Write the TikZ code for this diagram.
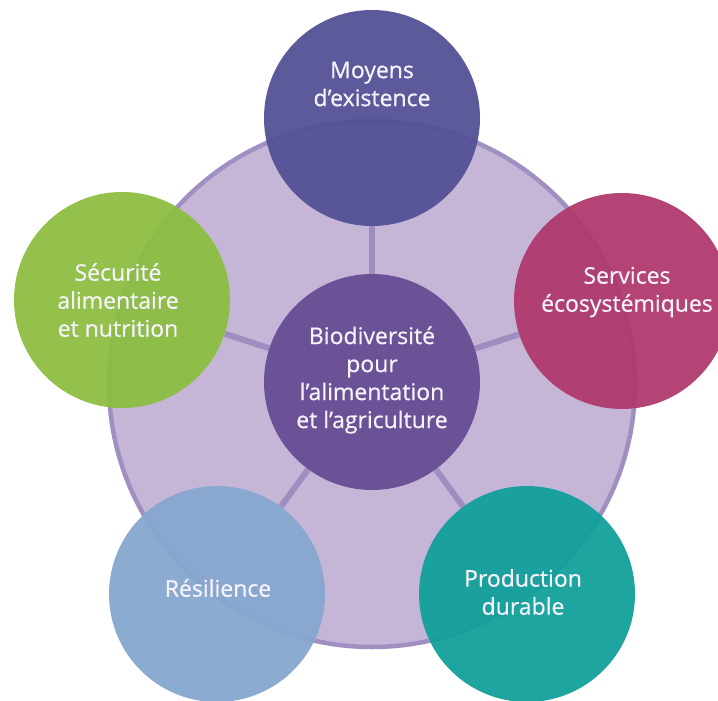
\documentclass[tikz,border=0pt]{standalone}
\usepackage{fontspec}
\setmainfont{Open Sans}
\newfontfamily\lblfont{Open Sans}[FakeBold=0.6]
\pgfdeclarelayer{bgA}
\pgfdeclarelayer{bgB}
\pgfsetlayers{bgA,bgB,main}
\definecolor{cBig}{RGB}{197,182,216}
\definecolor{cBigEdge}{RGB}{160,143,193}
\definecolor{cSpoke}{RGB}{158,142,192}
\definecolor{cTop}{RGB}{83,81,150}
\definecolor{cRight}{RGB}{175,58,110}
\definecolor{cLeft}{RGB}{141,190,66}
\definecolor{cBL}{RGB}{134,167,207}
\definecolor{cBR}{RGB}{18,160,154}
\definecolor{cMid}{RGB}{107,82,150}
\definecolor{cText}{RGB}{246,242,250}
\tikzset{
  petal/.style={circle, minimum size=216pt, inner sep=0pt, fill opacity=0.95, draw=none},
  hub/.style={circle, minimum size=216pt, inner sep=0pt, fill=cMid},
  lbl/.style={text=cText, align=center, font=\lblfont\fontsize{23}{28}\selectfont, inner sep=0pt},
  spoke/.style={draw=cSpoke, line width=6pt},
}
\begin{document}
\begin{tikzpicture}[x=1pt,y=-1pt]
\useasboundingbox (0,0) rectangle (718,701);
\clip (0,0) rectangle (718,701);
\node[hub] (mid) at (372,382) {};
\node[petal, fill=cTop] (top) at (372,118) {};
\node[petal, fill=cRight] (right) at (622,301) {};
\node[petal, fill=cLeft] (left) at (122,300) {};
\node[petal, fill=cBL] (bl) at (217,594) {};
\node[petal, fill=cBR] (br) at (527,594) {};
\begin{pgfonlayer}{bgA}
\node[circle, minimum size=526pt, inner sep=0pt, fill=cBig, draw=cBigEdge, line width=4.5pt] (big) at (372,384) {};
\end{pgfonlayer}
\begin{pgfonlayer}{bgB}
\draw[spoke] (mid) -- (top);
\draw[spoke] (mid) -- (right);
\draw[spoke] (mid) -- (left);
\draw[spoke] (mid) -- (bl);
\draw[spoke] (mid) -- (br);
\end{pgfonlayer}
\node[lbl] (tTop) at (372,84) {Moyens\\d’existence};
\node[lbl] (tRight) at (627,292) {Services\\écosystémiques};
\node[lbl] (tLeft) at (118,300) {Sécurité\\alimentaire\\et nutrition};
\node[lbl] (tBL) at (218,588) {Résilience};
\node[lbl] (tBR) at (523,592) {Production\\durable};
\node[lbl] (tMid) at (372,380) {Biodiversité\\pour\\l’alimentation\\et l’agriculture};
\end{tikzpicture}
\end{document}
